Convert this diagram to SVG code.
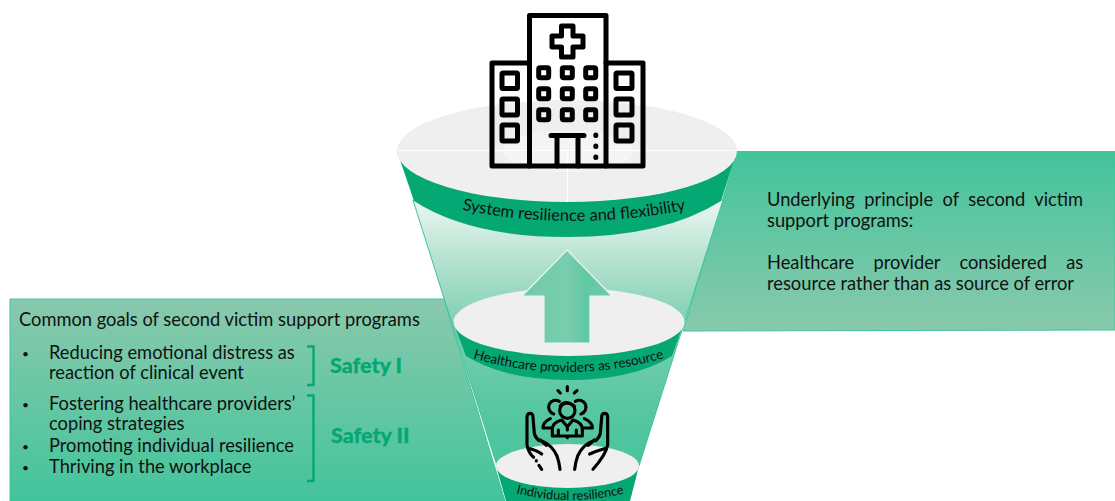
<svg xmlns="http://www.w3.org/2000/svg" width="1115" height="501" viewBox="0 0 1115 501">
<style>
text{font-family:Lato,"Noto Sans","Liberation Sans",sans-serif;fill:#111}
.b{font-size:18.300px}
.d{font-size:12px}
.s{font-size:21.500px;font-weight:900;fill:#05a873;stroke:#05a873;stroke-width:.3px}
.band{fill:#05a873}
.top{fill:#efefef}
.ic{fill:none;stroke:#000;stroke-linecap:round;stroke-linejoin:round}
.br{fill:none;stroke:#05a873;stroke-width:2.400}
</style>
<defs>
<linearGradient id="gl" x1="0" y1="0" x2="0" y2="1"><stop offset="0" stop-color="#89c9ad"/><stop offset="1" stop-color="#43c49b"/></linearGradient>
<linearGradient id="gr" x1="0" y1="0" x2="0" y2="1"><stop offset="0" stop-color="#43c49b"/><stop offset="1" stop-color="#89c9ad"/></linearGradient>
<linearGradient id="gf" gradientUnits="userSpaceOnUse" x1="0" y1="200" x2="0" y2="480"><stop offset="0" stop-color="#ecf7f2"/><stop offset=".2" stop-color="#b9e3d2"/><stop offset=".45" stop-color="#7ccfb1"/><stop offset=".7" stop-color="#5cc7a4"/><stop offset="1" stop-color="#43c49b"/></linearGradient>
<linearGradient id="ga" x1="0" y1="0" x2="1" y2="0"><stop offset="0" stop-color="#6fcba9"/><stop offset=".5" stop-color="#78cdae"/><stop offset=".7" stop-color="#62c8a4"/><stop offset="1" stop-color="#6ecaa9"/></linearGradient>
<path id="p1" d="M461 209.500Q572 232.500 688 209.500"/>
<path id="p2" d="M472 358Q568 386 664 358"/>
<path id="p3" d="M515 493Q570 507 626 493"/>
</defs>

<g id="panel-goals">
<path d="M10 299H444L505 501H10Z" fill="url(#gl)" stroke="#3fc49b" stroke-width="1"/>
<text class="b" x="19" y="326">Common goals of second victim support programs</text>
<text class="d" x="22" y="358">•</text><text class="b" x="49" y="359">Reducing emotional distress as</text>
<text class="b" x="49" y="379">reaction of clinical event</text>
<text class="d" x="22" y="409">•</text><text class="b" x="49" y="410">Fostering healthcare providers’</text>
<text class="b" x="49" y="430">coping strategies</text>
<text class="d" x="22" y="451">•</text><text class="b" x="49" y="452">Promoting individual resilience</text>
<text class="d" x="22" y="472">•</text><text class="b" x="49" y="473">Thriving in the workplace</text>
<path class="br" d="M307 346.500H313.500V385H307"/>
<path class="br" d="M307 395.500H313.500V481H307"/>
<text class="s" x="330" y="373">Safety I</text>
<text class="s" x="331" y="443">Safety II</text>
</g>

<g id="panel-principle">
<path d="M737 151.500H1115V330L683 331Z" fill="url(#gr)" stroke="#3fc49b" stroke-width="1"/>
<text class="b" x="767" y="206" word-spacing="4.800">Underlying principle of second victim</text>
<text class="b" x="767" y="227">support programs:</text>
<text class="b" x="767" y="269" word-spacing="14.600">Healthcare provider considered as</text>
<text class="b" x="767" y="290">resource rather than as source of error</text>
</g>

<g id="funnel">
<path d="M413 200H723L639 466H497Z" fill="url(#gf)" stroke="#3fc49b" stroke-width="1"/>
</g>

<g id="level-system">
<path class="band" d="M397 151L414 201Q470 237 567 237Q664 237 721 201L737 151Z"/>
<ellipse class="top" cx="567" cy="151" rx="170" ry="51"/>
<ellipse cx="568" cy="151" rx="66" ry="21" fill="#f4f4f4"/>
<path d="M397 150.500H737M567.500 151V202" stroke="#fff" stroke-width="1" fill="none"/>
<text font-size="16.500"><textPath href="#p1" startOffset="1">System resilience and flexibility</textPath></text>
</g>

<g id="level-providers">
<path class="band" d="M453 322L466 356Q505 380 569 380Q633 380 672 356L684 322Z"/>
<ellipse class="top" cx="569" cy="322" rx="115.500" ry="34"/>
<text font-size="13.500"><textPath href="#p2" startOffset="1">Healthcare providers as resource</textPath></text>
</g>

<g id="level-individual">
<path class="band" d="M496 466L506 501H630L639 466Z"/>
<ellipse class="top" cx="567.500" cy="466" rx="71.500" ry="22"/>
<text font-size="12.700"><textPath href="#p3" startOffset="1">Individual resilience</textPath></text>
</g>

<g id="arrow">
<path d="M567 250L612 296H590V343H544V296H522Z" fill="url(#ga)" stroke="#e8f7f1" stroke-width="1.200"/>
</g>

<g id="icon-hospital" class="ic" stroke-width="5">
<path d="M529.500 166V15.500H606V166"/>
<path d="M529.500 63H492V166H643V63H606"/>
<path d="M561.500 26H573V36H583V47H573V57H561.500V47H552V36H561.500Z"/>
<rect x="538.700" y="67.700" width="10" height="10" rx="1.500"/><rect x="562.300" y="67.700" width="10" height="10" rx="1.500"/><rect x="585.700" y="67.700" width="10" height="10" rx="1.500"/>
<rect x="538.700" y="88.700" width="10" height="10" rx="1.500"/><rect x="562.300" y="88.700" width="10" height="10" rx="1.500"/><rect x="585.700" y="88.700" width="10" height="10" rx="1.500"/>
<rect x="538.700" y="109.700" width="10" height="10" rx="1.500"/><rect x="562.300" y="109.700" width="10" height="10" rx="1.500"/><rect x="585.700" y="109.700" width="10" height="10" rx="1.500"/>
<rect x="502" y="73" width="15.500" height="15.500" rx="1"/><rect x="502" y="99" width="15.500" height="16" rx="1"/><rect x="502" y="125" width="15.500" height="16" rx="1"/>
<rect x="616" y="73" width="16" height="15.500" rx="1"/><rect x="616" y="99" width="16" height="16" rx="1"/><rect x="616" y="125" width="16" height="16" rx="1"/>
<path d="M551 135.500H584M557 136V166M578 136V166"/>
<path d="M595.800 135v.5M595.800 146v.5M595.800 157v.5"/>
</g>

<g id="icon-people" class="ic" stroke-width="9.500" transform="translate(515 380) scale(.3333)">
<path d="M129 32L136 39M157 20V32M186 32L178 39"/>
<circle cx="157" cy="92" r="23"/>
<path d="M136 78Q150 58 178 78M116 102A21 21 0 1 1 133 64M198 102A21 21 0 1 0 181 64"/>
<path d="M112 168V148Q112 128 140 120L157 140L174 120Q202 128 202 148V168H112M157 140V150M130 150V168M184 150V168"/>
<path d="M112 144H84Q84 126 106 116M202 144H232Q232 126 208 116M157 172v1"/>
<path d="M79 182Q112 196 126 228Q133 248 135 268M36 195V112Q36 100 45 100Q54 100 54 112L58 160Q60 172 72 182M36 195Q40 218 56 232M64 242v1M72 256L80 268M46 206Q68 212 80 222M76 180L94 196"/>
<path d="M235 182Q202 196 188 228Q181 248 179 268M278 195V112Q278 100 269 100Q260 100 260 112L256 160Q254 172 242 182M278 195Q272 225 234 268M268 206Q246 212 224 222M238 180L220 196"/>
</g>
</svg>
